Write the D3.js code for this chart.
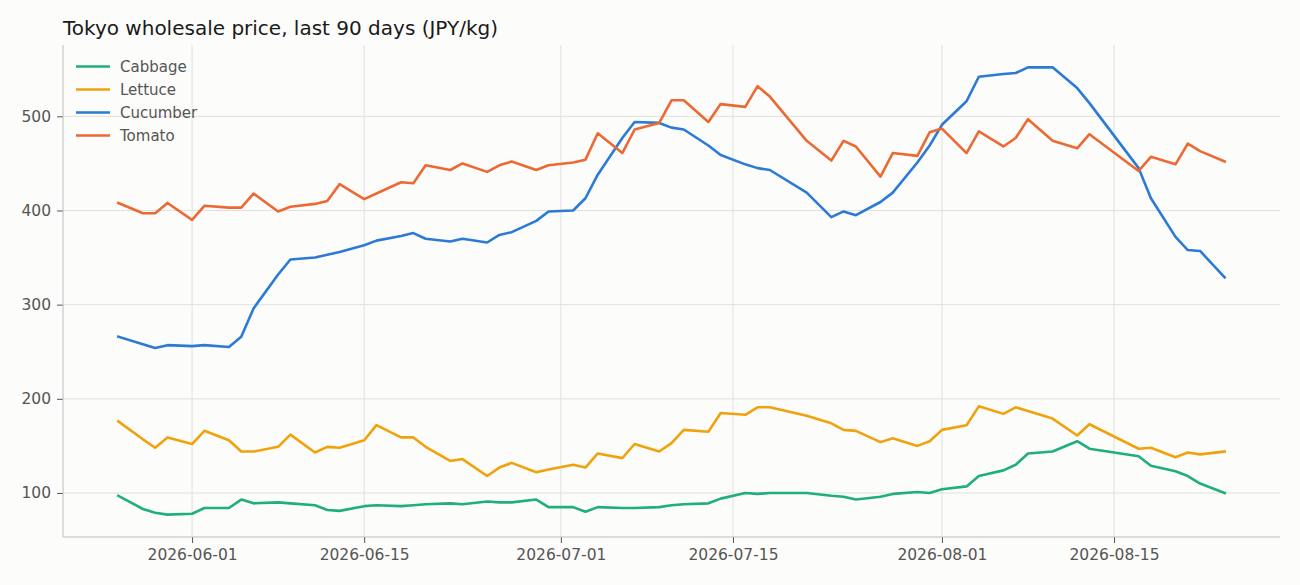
<!DOCTYPE html>
<html>
<head>
<meta charset="utf-8">
<script src="https://cdn.jsdelivr.net/npm/d3@7"></script>
<style>
	body { margin: 0; background: #fcfcfa; }
	svg { display: block; font-family: "DejaVu Sans", sans-serif; }
</style>
</head>
<body>
<svg id="chart" width="1300" height="585"></svg>
<script>
// market days only (closed Sundays, Wednesdays and holidays)
var dates = ["2026-05-26","2026-05-28","2026-05-29","2026-05-30","2026-06-01",
	"2026-06-02","2026-06-04","2026-06-05","2026-06-06","2026-06-08","2026-06-09",
	"2026-06-11","2026-06-12","2026-06-13","2026-06-15","2026-06-16",
	"2026-06-18","2026-06-19","2026-06-20","2026-06-22","2026-06-23",
	"2026-06-25","2026-06-26","2026-06-27","2026-06-29","2026-06-30",
	"2026-07-02","2026-07-03","2026-07-04","2026-07-06","2026-07-07",
	"2026-07-09","2026-07-10","2026-07-11","2026-07-13","2026-07-14",
	"2026-07-16","2026-07-17","2026-07-18","2026-07-21",
	"2026-07-23","2026-07-24","2026-07-25","2026-07-27","2026-07-28",
	"2026-07-30","2026-07-31","2026-08-01","2026-08-03","2026-08-04",
	"2026-08-06","2026-08-07","2026-08-08","2026-08-10","2026-08-12","2026-08-13",
	"2026-08-17","2026-08-18","2026-08-20","2026-08-21","2026-08-22","2026-08-24"];

var cabbage = [97,83,79,77,78, 84,84,93,89,90,89, 87,82,81,86,87, 86,87,88,89,88,
	91,90,90,93,85, 85,80,85,84,84, 85,87,88,89,94, 100,99,100,100,
	97,96,93,96,99, 101,100,104,107,118, 124,130,142,144,155,147, 139,129,123,118,110,100];

var lettuce = [176,157,148,159,152, 166,156,144,144,149,162, 143,149,148,156,172, 159,159,149,134,136,
	118,127,132,122,125, 130,127,142,137,152, 144,153,167,165,185, 183,191,191,182,
	174,167,166,154,158, 150,155,167,172,192, 184,191,187,179,161,173, 147,148,138,143,141,144];

var cucumber = [266,258,254,257,256, 257,255,266,296,332,348, 350,353,356,363,368, 373,376,370,367,370,
	366,374,377,389,399, 400,413,438,477,494, 493,488,486,469,459, 449,445,443,419,
	393,399,395,409,419, 451,469,491,516,542, 545,546,552,552,530,514, 445,413,372,358,357,329];

var tomato = [408,397,397,408,390, 405,403,403,418,399,404, 407,410,428,412,418, 430,429,448,443,450,
	441,448,452,443,448, 451,454,482,461,486, 493,517,517,494,513, 510,532,521,474,
	453,474,468,436,461, 458,483,487,461,484, 468,477,497,474,466,481, 442,457,449,471,463,452];

var seriesNames = ["Cabbage", "Lettuce", "Cucumber", "Tomato"];
var seriesColors = ["#1fae7d", "#f0a20c", "#2a7ad6", "#ec6934"];
var yTicks = [100, 200, 300, 400, 500];
var xTicks = ["2026-06-01", "2026-06-15", "2026-07-01", "2026-07-15", "2026-08-01", "2026-08-15"];

var parse = d3.utcParse("%Y-%m-%d"),
	fmt = d3.utcFormat("%Y-%m-%d"),
	days = dates.map(parse),
	values = [cabbage, lettuce, cucumber, tomato];

var series = seriesNames.map(function(name, i) {
	return {
		name: name,
		color: seriesColors[i],
		points: days.map(function(d, j) { return {date: d, value: values[i][j]}; })
	};
});

var plot = {left: 63, right: 1280, top: 45, bottom: 537};

// pad both axes by 5% of the data span
var xExt = d3.extent(days),
	xPad = (xExt[1] - xExt[0]) * 0.05,
	yExt = d3.extent(d3.merge(values)),
	yPad = (yExt[1] - yExt[0]) * 0.05;

var x = d3.scaleUtc()
	.domain([new Date(+xExt[0] - xPad), new Date(+xExt[1] + xPad)])
	.range([plot.left, plot.right]);

var y = d3.scaleLinear()
	.domain([yExt[0] - yPad, yExt[1] + yPad])
	.range([plot.bottom, plot.top]);

var svg = d3.select("#chart");

svg.append("text")
	.attr("x", plot.left)
	.attr("y", 35)
	.attr("font-size", 20)
	.attr("fill", "#1a1a1a")
	.text("Tokyo wholesale price, last 90 days (JPY/kg)");

// grid
svg.append("g")
	.selectAll("line")
	.data(yTicks)
	.enter().append("line")
	.attr("x1", plot.left).attr("x2", plot.right)
	.attr("y1", function(d) { return y(d); })
	.attr("y2", function(d) { return y(d); })
	.attr("stroke", "#e0e0de");

svg.append("g")
	.selectAll("line")
	.data(xTicks.map(parse))
	.enter().append("line")
	.attr("y1", plot.top).attr("y2", plot.bottom)
	.attr("x1", function(d) { return x(d); })
	.attr("x2", function(d) { return x(d); })
	.attr("stroke", "#e0e0de");

var xAxis = svg.append("g")
	.attr("transform", "translate(0," + plot.bottom + ")")
	.call(d3.axisBottom(x).tickValues(xTicks.map(parse)).tickFormat(fmt).tickSize(6).tickPadding(6));

var yAxis = svg.append("g")
	.attr("transform", "translate(" + plot.left + ",0)")
	.call(d3.axisLeft(y).tickValues(yTicks).tickSize(6).tickPadding(6));

[xAxis, yAxis].forEach(function(g) {
	g.select(".domain").remove();
	g.selectAll(".tick line").attr("stroke", "#555");
	g.selectAll(".tick text")
		.attr("fill", "#555")
		.attr("font-size", 15.5)
		.attr("font-family", "DejaVu Sans, sans-serif");
});

// spines
svg.append("line")
	.attr("x1", plot.left).attr("x2", plot.left)
	.attr("y1", plot.top).attr("y2", plot.bottom)
	.attr("stroke", "#bdbdbd");
svg.append("line")
	.attr("x1", plot.left).attr("x2", plot.right)
	.attr("y1", plot.bottom).attr("y2", plot.bottom)
	.attr("stroke", "#bdbdbd");

var line = d3.line()
	.x(function(d) { return x(d.date); })
	.y(function(d) { return y(d.value); });

svg.append("g")
	.selectAll("path")
	.data(series)
	.enter().append("path")
	.attr("d", function(d) { return line(d.points); })
	.attr("fill", "none")
	.attr("stroke", function(d) { return d.color; })
	.attr("stroke-width", 2.6)
	.attr("stroke-linejoin", "round")
	.attr("stroke-linecap", "square");

var legend = svg.append("g")
	.selectAll("g")
	.data(series)
	.enter().append("g")
	.attr("transform", function(d, i) { return "translate(76," + (66.5 + i * 23) + ")"; });

legend.append("line")
	.attr("x1", 0).attr("x2", 34)
	.attr("stroke", function(d) { return d.color; })
	.attr("stroke-width", 2.6);

legend.append("text")
	.attr("x", 44)
	.attr("dy", "0.35em")
	.attr("font-size", 15)
	.attr("fill", "#555")
	.text(function(d) { return d.name; });
</script>
</body>
</html>
